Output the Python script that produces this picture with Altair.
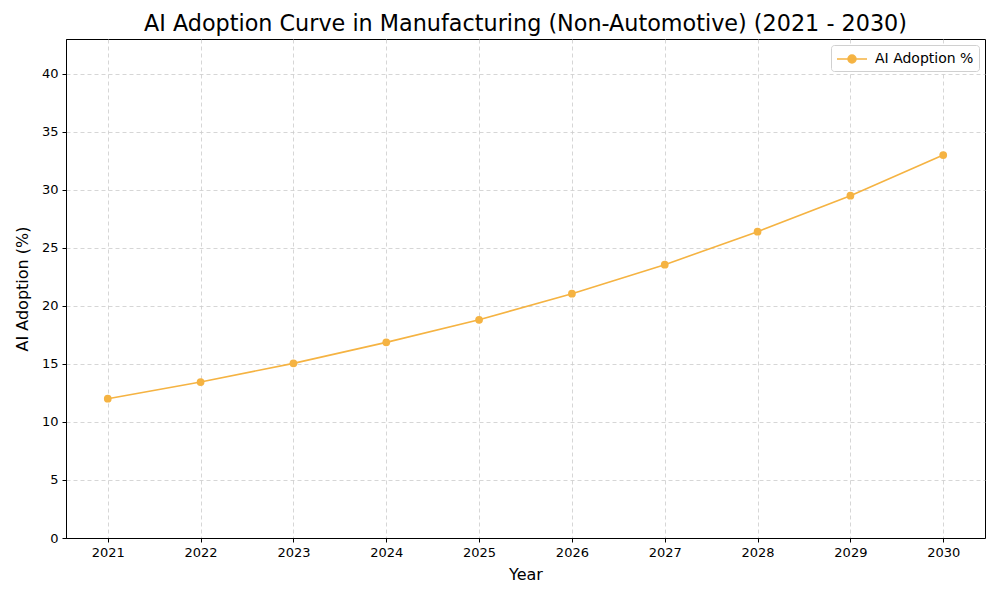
import altair as alt
import pandas as pd

years = [2021, 2022, 2023, 2024, 2025, 2026, 2027, 2028, 2029, 2030]
adoption = [12.0, 13.44, 15.05, 16.86, 18.8, 21.05, 23.55, 26.4, 29.5, 33.0]
series_name = "AI Adoption %"

df = pd.DataFrame({"Year": years, "Adoption": adoption, "Series": [series_name] * len(years)})

color = "#f5b342"
legend_symbol = "M-1,0L2.75,0M1.375,0A0.5,0.5 0 1,1 0.375,0A0.5,0.5 0 1,1 1.375,0Z"

base = alt.Chart(df).encode(
    x=alt.X("Year:Q", scale=alt.Scale(domain=[2020.55, 2030.45], nice=False, zero=False),
            axis=alt.Axis(values=years, format="d", title="Year")),
    y=alt.Y("Adoption:Q", scale=alt.Scale(domain=[0, 43], nice=False),
            axis=alt.Axis(values=list(range(0, 45, 5)), title="AI Adoption (%)")),
    color=alt.Color("Series:N", scale=alt.Scale(range=[color]),
                    legend=alt.Legend(title=None, orient="none", legendX=765, legendY=6,
                                      symbolType=legend_symbol,
                                      symbolSize=256, symbolStrokeWidth=1.5,
                                      symbolFillColor=color, symbolStrokeColor=color,
                                      labelFontSize=14, labelFont="DejaVu Sans", labelOffset=21,
                                      fillColor="white", strokeColor="#d0d0d0",
                                      padding=5, cornerRadius=3)),
)

line = base.mark_line(strokeWidth=1.6)
points = base.mark_circle(size=60, opacity=1)

chart = (line + points).properties(
    width=919, height=499,
    title=alt.Title("AI Adoption Curve in Manufacturing (Non-Automotive) (2021 - 2030)",
                    fontSize=22.3, font="DejaVu Sans", fontWeight="normal", color="black", offset=4),
    autosize=alt.AutoSizeParams(type="none"),
    padding={"left": 58, "top": 31, "right": 7, "bottom": 54},
).configure_view(stroke="black", strokeWidth=1).configure_axis(
    grid=True, gridDash=[4, 3], gridColor="#cccccc", gridWidth=0.8,
    domainColor="black", tickColor="black", tickSize=4,
    labelFont="DejaVu Sans", labelFontSize=13, labelColor="black", labelPadding=4,
    titleFont="DejaVu Sans", titleFontSize=16, titleFontWeight="normal", titleColor="black",
).configure_axisX(titlePadding=7).configure_axisY(titlePadding=11)

chart.save("out.html", embed_options={"renderer": "svg", "actions": False})
